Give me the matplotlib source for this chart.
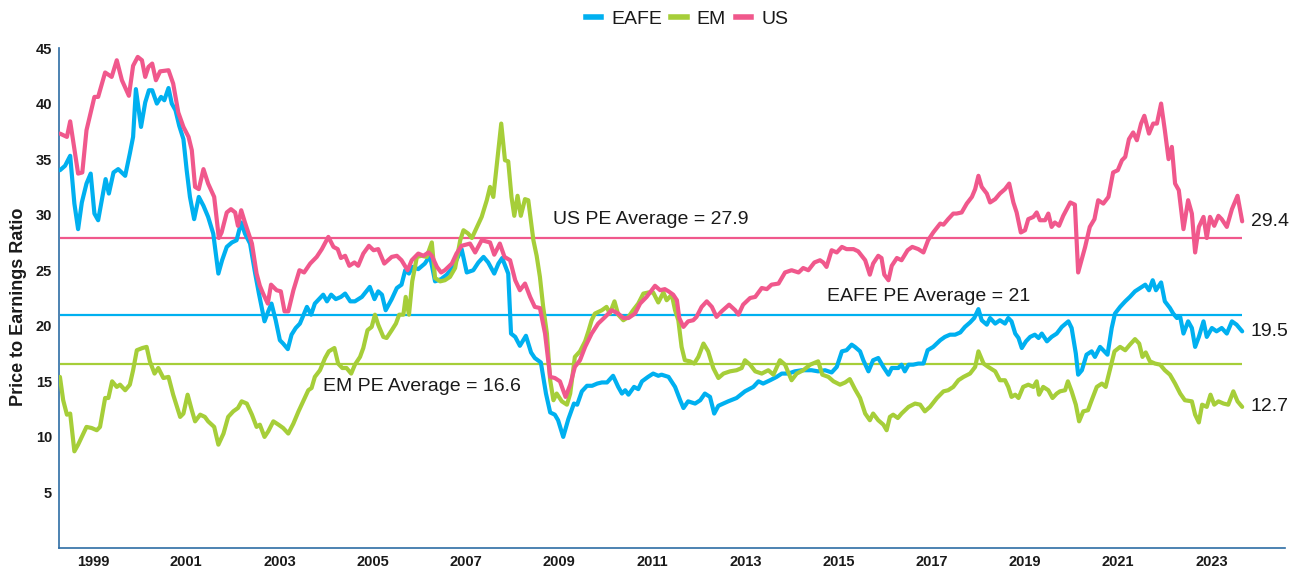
import matplotlib
matplotlib.use("Agg")
import matplotlib.pyplot as plt
from matplotlib.lines import Line2D

plt.rcParams['font.family'] = ['Liberation Sans', 'DejaVu Sans']

# ---------------- data (decimal years, P/E) ----------------
us_years = [1998.29,1998.44,1998.51,1998.68,1998.77,1998.86,1999.03,1999.11,1999.26,1999.40,1999.51,1999.62,1999.77,1999.86,1999.96,
 2000.05,2000.12,2000.19,2000.27,2000.35,2000.44,2000.62,2000.72,2000.83,2000.94,2001.05,2001.12,2001.19,2001.27,2001.37,2001.47,
 2001.60,2001.70,2001.76,2001.87,2001.96,2002.05,2002.11,2002.18,2002.26,2002.41,2002.51,2002.58,2002.65,2002.75,2002.82,2002.94,
 2003.03,2003.11,2003.19,2003.30,2003.43,2003.53,2003.66,2003.80,2003.91,2004.05,2004.16,2004.25,2004.32,2004.41,2004.50,2004.61,
 2004.69,2004.80,2004.92,2005.02,2005.12,2005.25,2005.41,2005.52,2005.62,2005.75,2005.84,2005.98,2006.09,2006.20,2006.27,2006.38,
 2006.47,2006.55,2006.70,2006.80,2006.91,2007.09,2007.20,2007.34,2007.52,2007.61,2007.73,2007.83,2007.95,2008.06,2008.16,2008.27,
 2008.38,2008.48,2008.59,2008.70,2008.81,2008.91,2009.02,2009.14,2009.24,2009.34,2009.45,2009.56,2009.70,2009.84,2009.99,2010.13,
 2010.27,2010.38,2010.49,2010.63,2010.74,2010.88,2011.06,2011.17,2011.27,2011.35,2011.45,2011.53,2011.58,2011.67,2011.77,2011.88,
 2011.95,2012.06,2012.17,2012.28,2012.38,2012.49,2012.65,2012.78,2012.85,2012.95,2013.10,2013.21,2013.35,2013.46,2013.56,2013.71,
 2013.85,2013.99,2014.14,2014.24,2014.35,2014.48,2014.60,2014.67,2014.74,2014.85,2014.96,2015.07,2015.17,2015.32,2015.42,2015.57,
 2015.67,2015.74,2015.85,2015.92,2015.98,2016.07,2016.14,2016.25,2016.35,2016.48,2016.58,2016.71,2016.82,2016.92,2017.03,2017.18,
 2017.25,2017.35,2017.46,2017.53,2017.64,2017.75,2017.86,2017.93,2018.00,2018.07,2018.18,2018.25,2018.36,2018.46,2018.57,2018.66,
 2018.75,2018.82,2018.91,2019.00,2019.07,2019.18,2019.25,2019.32,2019.43,2019.50,2019.57,2019.64,2019.73,2019.82,2019.97,2020.07,
 2020.14,2020.29,2020.39,2020.49,2020.57,2020.68,2020.79,2020.89,2020.99,2021.08,2021.15,2021.23,2021.32,2021.40,2021.49,2021.56,
 2021.66,2021.75,2021.83,2021.92,2022.00,2022.08,2022.15,2022.22,2022.30,2022.40,2022.50,2022.58,2022.65,2022.73,2022.83,2022.90,
 2022.97,2023.06,2023.15,2023.22,2023.33,2023.44,2023.56,2023.66]
us_pe = [37.3,37.0,38.4,33.7,33.8,37.6,40.6,40.6,42.8,42.4,43.9,42.1,40.7,43.4,44.2,
 43.9,42.4,43.3,43.6,42.1,42.9,43.0,41.8,39.2,37.9,37.0,35.8,32.5,32.3,34.1,32.8,
 31.6,27.9,28.4,30.2,30.5,30.2,29.0,30.4,29.3,27.4,24.7,23.6,22.9,22.0,23.7,23.2,
 23.1,21.3,21.3,23.2,25.0,24.8,25.6,26.2,26.9,28.0,27.1,26.9,26.1,26.3,25.4,25.7,
 25.4,26.5,27.2,26.8,26.9,25.6,26.2,26.3,25.9,25.0,25.9,26.5,26.3,26.6,26.3,25.3,
 24.8,25.0,25.6,26.5,27.2,27.4,26.6,27.7,27.5,26.4,27.4,26.2,25.9,24.1,23.2,23.8,
 22.6,21.7,21.6,19.3,15.4,15.3,15.0,13.6,14.7,16.3,16.9,18.1,19.3,20.2,20.8,21.4,
 21.1,20.7,20.7,21.1,22.0,22.6,23.6,23.2,23.3,23.1,22.8,22.3,20.7,19.9,20.4,20.5,
 20.8,21.7,22.2,21.7,20.8,21.3,21.9,21.4,21.0,21.9,22.5,22.6,23.4,23.3,23.7,23.8,
 24.8,25.0,24.8,25.2,25.0,25.7,25.9,25.7,25.3,26.8,26.6,27.1,26.9,26.9,26.7,25.9,
 24.6,25.6,26.3,26.1,24.6,24.1,25.4,26.1,25.9,26.8,27.1,26.9,26.6,27.7,28.4,29.2,
 29.1,29.6,30.1,30.1,30.2,31.0,31.6,32.3,33.5,32.5,31.9,31.1,31.4,31.9,32.3,32.8,
 31.1,30.2,28.4,28.6,29.6,29.8,30.2,29.5,29.5,30.1,28.9,29.3,29.0,29.9,31.1,30.9,
 24.8,27.1,28.9,29.6,31.3,31.0,31.6,33.8,34.0,34.9,35.2,36.8,37.4,36.7,38.2,38.9,
 37.3,38.2,38.2,40.0,37.6,35.0,36.1,32.8,32.2,28.7,31.3,30.1,26.6,28.9,29.8,27.9,
 29.8,29.0,29.9,29.6,28.9,30.5,31.7,29.4]

eafe_years = [1998.29,1998.40,1998.51,1998.60,1998.68,1998.76,1998.86,1998.95,1999.03,1999.11,1999.20,1999.27,1999.34,1999.44,1999.54,
 1999.69,1999.79,1999.86,1999.92,2000.03,2000.12,2000.20,2000.27,2000.37,2000.46,2000.53,2000.62,2000.69,2000.77,2000.85,2000.94,
 2001.01,2001.08,2001.17,2001.27,2001.37,2001.47,2001.58,2001.69,2001.77,2001.87,2001.98,2002.08,2002.18,2002.26,2002.37,2002.48,
 2002.56,2002.68,2002.76,2002.83,2002.92,2003.01,2003.08,2003.18,2003.26,2003.35,2003.44,2003.59,2003.68,2003.76,2003.94,2004.02,
 2004.11,2004.21,2004.32,2004.41,2004.52,2004.62,2004.77,2004.94,2005.04,2005.12,2005.20,2005.28,2005.41,2005.52,2005.62,2005.70,
 2005.78,2005.85,2005.98,2006.12,2006.23,2006.34,2006.47,2006.59,2006.73,2006.91,2007.02,2007.16,2007.27,2007.38,2007.48,2007.61,
 2007.70,2007.78,2007.91,2007.97,2008.06,2008.16,2008.29,2008.40,2008.48,2008.61,2008.72,2008.81,2008.91,2008.98,2009.09,2009.20,
 2009.32,2009.39,2009.49,2009.60,2009.71,2009.82,2009.92,2010.03,2010.16,2010.27,2010.35,2010.42,2010.49,2010.61,2010.70,2010.78,
 2010.91,2011.02,2011.13,2011.20,2011.35,2011.49,2011.60,2011.67,2011.77,2011.92,2012.03,2012.13,2012.24,2012.33,2012.42,2012.63,
 2012.81,2012.99,2013.17,2013.28,2013.38,2013.53,2013.67,2013.78,2013.92,2014.06,2014.21,2014.42,2014.56,2014.71,2014.85,2014.96,
 2015.07,2015.17,2015.28,2015.35,2015.46,2015.53,2015.64,2015.74,2015.85,2015.96,2016.07,2016.14,2016.28,2016.35,2016.42,2016.50,
 2016.60,2016.71,2016.82,2016.91,2017.03,2017.18,2017.28,2017.39,2017.50,2017.61,2017.71,2017.82,2017.91,2018.00,2018.07,2018.18,
 2018.25,2018.36,2018.46,2018.57,2018.64,2018.71,2018.79,2018.86,2018.93,2019.02,2019.11,2019.21,2019.29,2019.36,2019.47,2019.57,
 2019.68,2019.79,2019.93,2020.00,2020.09,2020.14,2020.22,2020.32,2020.43,2020.50,2020.61,2020.68,2020.77,2020.86,2020.93,2021.04,
 2021.15,2021.25,2021.36,2021.47,2021.58,2021.66,2021.74,2021.81,2021.92,2022.00,2022.11,2022.18,2022.26,2022.33,2022.40,2022.50,
 2022.58,2022.65,2022.73,2022.83,2022.90,2023.01,2023.11,2023.22,2023.33,2023.44,2023.54,2023.66]
eafe_pe = [34.0,34.4,35.3,31.0,28.7,31.1,32.8,33.7,30.1,29.5,31.6,33.2,31.9,33.8,34.1,
 33.5,35.5,37.0,41.3,37.9,40.1,41.2,41.2,40.0,40.6,40.3,41.4,40.0,39.4,38.0,36.8,
 34.0,31.6,29.6,31.6,30.8,29.8,28.3,24.7,25.9,27.1,27.5,27.7,29.3,28.3,27.4,24.7,
 22.9,20.4,21.3,22.0,20.5,18.7,18.4,17.9,19.2,19.8,20.2,21.7,21.0,22.0,22.8,22.2,
 22.8,22.4,22.6,22.9,22.2,22.2,22.6,23.5,22.4,23.1,22.8,21.4,22.4,23.4,23.7,25.0,
 24.7,25.3,25.1,25.6,26.3,24.0,24.2,24.6,25.3,26.9,24.8,25.0,25.7,26.2,25.7,24.7,
 25.6,26.1,24.7,19.3,19.0,18.2,19.1,17.6,17.1,16.7,13.9,12.2,12.0,11.5,10.0,11.6,
 13.0,12.9,14.1,14.6,14.6,14.8,14.9,14.9,15.5,14.5,13.9,14.2,13.8,14.5,14.3,15.0,
 15.4,15.7,15.5,15.6,15.4,14.5,13.3,12.6,13.2,13.0,13.3,13.9,13.6,12.1,12.8,13.2,
 13.5,14.1,14.5,15.0,14.8,15.1,15.4,15.7,15.7,15.9,16.0,16.0,15.9,16.0,15.8,16.3,
 17.7,17.8,18.3,18.1,17.7,16.9,15.9,16.9,17.1,16.3,15.6,16.2,16.2,16.5,15.9,16.5,
 16.5,16.6,16.6,17.8,18.1,18.7,19.0,19.2,19.2,19.4,19.9,20.3,20.7,21.5,20.5,20.1,
 20.7,20.2,20.5,20.2,20.7,20.4,19.3,18.9,18.0,18.6,19.0,19.2,18.9,19.3,18.6,19.0,
 19.3,19.9,20.4,19.8,17.5,15.6,16.0,17.4,17.7,17.2,18.1,17.8,17.4,19.8,21.1,21.7,
 22.2,22.6,23.1,23.4,23.7,23.2,24.1,23.2,23.9,22.2,21.6,21.1,20.7,20.8,19.3,20.4,
 19.8,18.1,19.0,20.4,19.0,19.8,19.5,19.8,19.3,20.4,20.1,19.5]

em_years = [1998.29,1998.36,1998.44,1998.51,1998.60,1998.68,1998.86,1998.97,1999.08,1999.15,1999.26,1999.33,1999.41,1999.51,1999.58,
 1999.69,1999.79,1999.86,1999.94,2000.06,2000.15,2000.22,2000.32,2000.40,2000.51,2000.62,2000.72,2000.87,2000.94,2001.03,2001.12,
 2001.19,2001.30,2001.40,2001.47,2001.60,2001.69,2001.80,2001.90,2002.01,2002.11,2002.19,2002.30,2002.41,2002.51,2002.58,2002.68,
 2002.76,2002.87,2002.98,2003.08,2003.19,2003.30,2003.41,2003.51,2003.62,2003.69,2003.76,2003.87,2003.98,2004.06,2004.18,2004.26,
 2004.35,2004.44,2004.54,2004.62,2004.73,2004.80,2004.89,2004.98,2005.05,2005.12,2005.23,2005.30,2005.41,2005.50,2005.57,2005.66,
 2005.71,2005.78,2005.85,2005.95,2006.05,2006.16,2006.27,2006.34,2006.45,2006.55,2006.66,2006.77,2006.88,2006.95,2007.05,2007.13,
 2007.23,2007.34,2007.45,2007.52,2007.59,2007.66,2007.76,2007.84,2007.91,2007.98,2008.04,2008.11,2008.18,2008.27,2008.34,2008.45,
 2008.52,2008.59,2008.66,2008.74,2008.81,2008.88,2008.95,2009.06,2009.17,2009.24,2009.34,2009.45,2009.56,2009.63,2009.70,2009.77,
 2009.92,2010.02,2010.09,2010.19,2010.27,2010.38,2010.49,2010.59,2010.70,2010.81,2010.92,2011.02,2011.13,2011.24,2011.31,2011.42,
 2011.49,2011.56,2011.63,2011.70,2011.81,2011.90,2011.99,2012.10,2012.20,2012.31,2012.42,2012.53,2012.67,2012.81,2012.92,2012.99,
 2013.10,2013.21,2013.35,2013.49,2013.60,2013.74,2013.85,2013.99,2014.10,2014.24,2014.39,2014.56,2014.65,2014.78,2014.89,2015.03,
 2015.14,2015.24,2015.35,2015.46,2015.57,2015.67,2015.74,2015.85,2015.96,2016.03,2016.10,2016.17,2016.27,2016.35,2016.50,2016.64,
 2016.75,2016.85,2016.96,2017.11,2017.25,2017.35,2017.46,2017.57,2017.68,2017.82,2017.93,2018.00,2018.11,2018.21,2018.36,2018.46,
 2018.57,2018.64,2018.71,2018.79,2018.86,2018.96,2019.07,2019.18,2019.25,2019.30,2019.39,2019.50,2019.59,2019.68,2019.75,2019.86,
 2019.92,2020.00,2020.09,2020.16,2020.25,2020.35,2020.43,2020.54,2020.65,2020.73,2020.82,2020.92,2021.04,2021.15,2021.25,2021.36,
 2021.45,2021.52,2021.59,2021.68,2021.79,2021.90,2022.00,2022.11,2022.22,2022.33,2022.43,2022.58,2022.65,2022.73,2022.80,2022.90,
 2022.98,2023.06,2023.15,2023.26,2023.36,2023.47,2023.56,2023.66]
em_pe = [15.4,13.3,12.0,12.1,8.7,9.3,10.9,10.8,10.6,10.9,13.5,13.5,15.0,14.5,14.7,
 14.2,14.7,16.0,17.8,18.0,18.1,16.8,15.7,16.2,15.3,15.4,13.8,11.8,12.1,13.8,12.4,
 11.4,12.0,11.8,11.4,10.9,9.3,10.3,11.8,12.3,12.6,13.2,13.0,12.0,10.9,11.1,10.0,
 10.5,11.4,11.1,10.8,10.3,11.2,12.3,13.2,14.2,14.4,15.4,16.0,17.1,17.7,18.0,16.6,
 16.2,16.2,15.7,16.5,17.2,18.0,19.6,19.9,21.0,20.1,19.0,18.9,19.6,20.2,21.0,21.0,
 22.6,21.0,24.0,26.2,26.3,26.2,27.5,24.3,24.0,24.1,24.4,25.2,27.7,28.6,28.3,27.9,
 28.8,29.8,31.3,32.5,31.6,34.3,38.2,34.9,34.8,31.6,29.9,31.7,29.9,31.4,31.3,27.7,
 26.3,24.4,21.7,19.3,15.1,13.3,13.9,13.2,12.9,13.9,17.2,17.7,18.6,19.5,20.5,21.1,
 21.4,21.7,21.1,22.2,21.0,20.5,20.8,21.4,22.0,22.9,23.0,23.0,22.1,23.0,22.3,22.8,
 21.4,20.5,18.1,16.9,16.8,16.6,17.2,18.4,17.7,16.2,15.3,15.7,15.9,16.0,16.2,16.9,
 16.5,15.9,15.7,16.0,15.6,16.9,16.5,15.1,15.7,16.0,16.5,16.8,15.6,15.4,15.0,14.7,
 14.9,15.2,14.3,13.5,12.1,11.5,12.1,11.5,11.1,10.6,11.8,12.0,11.7,12.1,12.7,13.0,
 12.9,12.3,12.7,13.5,14.1,14.2,14.5,15.1,15.4,15.7,16.3,17.7,16.6,16.3,15.9,15.1,
 15.1,14.5,13.6,13.8,13.5,14.5,14.7,14.5,15.0,13.8,14.5,14.2,13.5,13.9,14.1,14.2,
 15.0,14.1,12.9,11.4,12.3,12.4,13.3,14.5,14.8,14.5,16.0,17.7,18.1,17.8,18.3,18.8,
 18.4,17.2,17.6,16.8,16.6,16.5,16.0,15.6,14.8,13.9,13.3,13.2,12.0,11.3,12.9,12.7,
 13.8,12.9,13.2,13.0,12.9,14.1,13.2,12.7]

series_names = ["EAFE", "EM", "US"]
series_colors = ["#00B0F0", "#A6CE39", "#F0588C"]
averages = [21.0, 16.6, 27.9]
avg_labels = ["EAFE PE Average = 21", "EM PE Average = 16.6", "US PE Average = 27.9"]
avg_label_pos = [(2014.75, 22.6), (2003.94, 14.5), (2008.87, 29.6)]
end_labels = ["19.5", "12.7", "29.4"]
year_ticks = list(range(1999, 2024, 2))
y_ticks = [5, 10, 15, 20, 25, 30, 35, 40, 45]

# ---------------- figure ----------------
fig = plt.figure(figsize=(12.91, 5.69), dpi=100)
ax = fig.add_axes([0.0457, 0.0369, 0.9497, 0.8787])

xs = [eafe_years, em_years, us_years]
ys = [eafe_pe, em_pe, us_pe]
text_color = "#1A1A1A"

for avg, col, lab, pos in zip(averages, series_colors, avg_labels, avg_label_pos):
    ax.hlines(avg, us_years[0], us_years[-1], color=col, lw=1.6, zorder=1)
    ax.text(pos[0], pos[1], lab, fontsize=14, color=text_color, ha="left", va="center", zorder=5)

for x, y, col, lab in zip(xs, ys, series_colors, end_labels):
    ax.plot(x, y, color=col, lw=3.0, solid_joinstyle="round", solid_capstyle="round", zorder=3)
    ax.annotate(lab, (x[-1], y[-1]), xytext=(6, 0), textcoords="offset points",
                fontsize=14, color=text_color, ha="left", va="center")

ax.set_xlim(1998.27, 2024.58)
ax.set_ylim(0, 45)
ax.set_xticks(year_ticks)
ax.set_xticklabels([str(t) for t in year_ticks])
ax.set_yticks(y_ticks)
ax.tick_params(axis="both", length=0, labelsize=10.5, colors=text_color)
ax.tick_params(axis="x", pad=5)
ax.tick_params(axis="y", pad=5)
for lbl in ax.get_xticklabels() + ax.get_yticklabels():
    lbl.set_fontweight("bold")

for s in ["top", "right"]:
    ax.spines[s].set_visible(False)
for s in ["left", "bottom"]:
    ax.spines[s].set_color("#2E6DA4")
    ax.spines[s].set_linewidth(1.2)

fig.text(0.014, 0.46, "Price to Earnings Ratio", rotation=90, fontsize=13, fontweight="bold",
         color=text_color, ha="center", va="center")

handles = [Line2D([0], [0], color=c, lw=4) for c in series_colors]
fig.legend(handles, series_names, loc="center", bbox_to_anchor=(0.532, 0.966), ncol=3,
           frameon=False, fontsize=14, handlelength=0.8, handletextpad=0.5, columnspacing=0.5,
           labelcolor=text_color)

fig.savefig("out.png", dpi=100)
